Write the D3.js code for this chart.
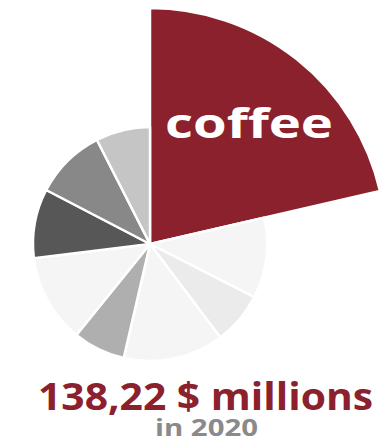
<!DOCTYPE html>
<html>
<head>
<meta charset="utf-8">
<script src="https://cdn.jsdelivr.net/npm/d3@7"></script>
<style>
  html, body { margin: 0; padding: 0; background: #ffffff; }
  svg { display: block; }
</style>
</head>
<body>
<svg id="chart" width="389" height="443"></svg>
<script>
// Spending shares (in $ millions), coffee first, clockwise from 12 o'clock
const categories = ["coffee", "tea", "cocoa", "juice", "water", "soda", "milk", "beer", "wine"];
const values = [138.22, 71.8, 46.7, 89.7, 46.7, 79.0, 61.9, 63.7, 48.5];
const colors = ["#8b212d", "#f5f5f5", "#ebebeb", "#f5f5f5", "#afafaf", "#f5f5f5", "#575757", "#888888", "#c5c5c5"];
const highlight = "coffee";
const headline = "138,22 $ millions";
const subline = "in 2020";

const svg = d3.select("#chart");
const cx = 150, cy = 244;
const rBase = 117, rHighlight = 236;

const data = categories.map((c, i) => ({ name: c, value: values[i], color: colors[i] }));

const pie = d3.pie().sort(null).value(d => d.value).startAngle(0).endAngle(2 * Math.PI);
const arcs = pie(data);

const arc = d3.arc()
  .innerRadius(0)
  .outerRadius(d => d.data.name === highlight ? rHighlight : rBase);

const g = svg.append("g").attr("transform", `translate(${cx},${cy})`);

g.selectAll("path")
  .data(arcs)
  .join("path")
  .attr("d", arc)
  .attr("fill", d => d.data.color)
  .attr("stroke", "#ffffff")
  .attr("stroke-width", 2.5)
  .attr("stroke-linejoin", "round");

// label inside the enlarged slice
svg.append("text")
  .attr("x", 165)
  .attr("y", 138)
  .attr("textLength", 168)
  .attr("lengthAdjust", "spacingAndGlyphs")
  .attr("font-family", "'Open Sans', Lato, sans-serif")
  .attr("font-weight", 700)
  .attr("font-size", 42)
  .attr("fill", "#ffffff")
  .text(highlight);

svg.append("text")
  .attr("x", 38)
  .attr("y", 410)
  .attr("textLength", 335)
  .attr("lengthAdjust", "spacingAndGlyphs")
  .attr("font-family", "'Open Sans', Lato, sans-serif")
  .attr("font-weight", 700)
  .attr("font-size", 37)
  .attr("fill", "#8b212d")
  .text(headline);

svg.append("text")
  .attr("x", 155)
  .attr("y", 436)
  .attr("textLength", 103)
  .attr("lengthAdjust", "spacingAndGlyphs")
  .attr("font-family", "'Open Sans', Lato, sans-serif")
  .attr("font-weight", 700)
  .attr("font-size", 24)
  .attr("fill", "#8a8a8a")
  .text(subline);
</script>
</body>
</html>
